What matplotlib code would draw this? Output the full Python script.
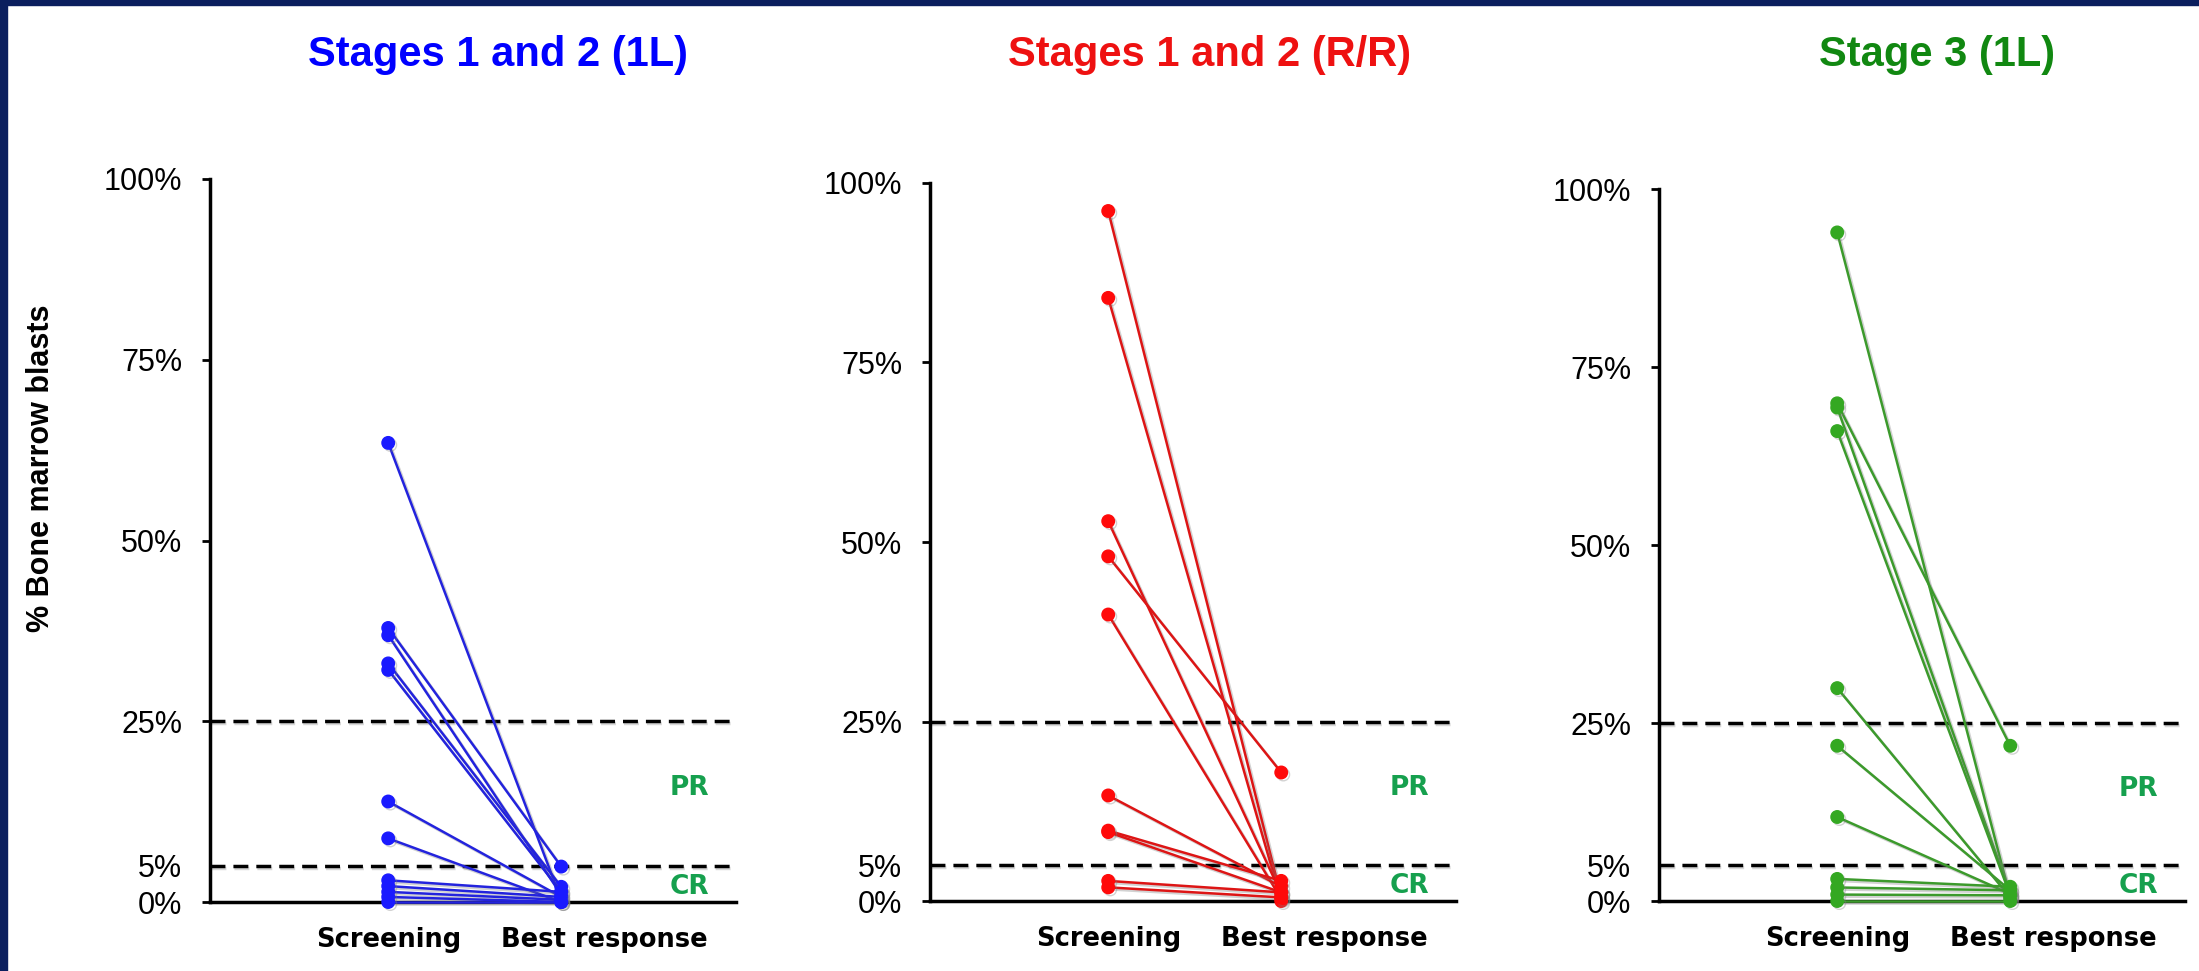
import matplotlib
matplotlib.use('Agg')
import matplotlib.pyplot as plt
import matplotlib.patheffects as pe
from matplotlib.patches import Rectangle

plt.rcParams['font.family'] = ['Liberation Sans', 'DejaVu Sans']

# Data (% bone marrow blasts), one pair of values per patient
categories = ['Screening', 'Best response']

blue_screen = [63.5, 37.9, 36.9, 33.0, 32.1, 13.9, 8.8, 3.0, 2.2, 1.4, 0.7, 0.0]
blue_best = [0.3, 4.9, 1.0, 2.1, 1.4, 0.7, 0.0, 1.4, 0.7, 0.3, 0.0, 0.0]

red_screen = [96.1, 84.0, 52.9, 48.0, 39.9, 14.7, 9.8, 9.6, 2.8, 1.9]
red_best = [0.5, 0.0, 1.0, 17.9, 0.3, 2.0, 2.8, 1.2, 1.2, 0.5]

green_screen = [93.9, 69.9, 69.3, 66.0, 29.9, 21.8, 11.8, 3.1, 1.9, 0.9, 0.0]
green_best = [0.5, 21.8, 1.0, 0.8, 0.5, 1.5, 1.0, 2.0, 1.5, 0.8, 0.0]

titles = ['Stages 1 and 2 (1L)', 'Stages 1 and 2 (R/R)', 'Stage 3 (1L)']
yticks = [0, 25, 50, 75, 100]
ytick_labels = ['0%', '25%', '50%', '75%', '100%']
thresholds = [25, 5]

W, H = 2199, 971
fig = plt.figure(figsize=(W / 100, H / 100), dpi=100)
fig.patch.set_facecolor('white')

# navy frame around the slide
navy = '#0b1f5e'
for x, y, w, h in [(0, 0, 7, H), (0, H - 5, W, 5)]:
    fig.patches.append(Rectangle((x / W, y / H), w / W, h / H,
                                 transform=fig.transFigure, color=navy, zorder=0))

# axes boxes in pixels: left, right, top, bottom
boxes = [(210, 736, 179, 902), (930, 1456, 183, 901), (1659, 2185, 189, 901)]
title_x = [498, 1210, 1937]
series = [(blue_screen, blue_best), (red_screen, red_best), (green_screen, green_best)]
line_colors = ['#2323dd', '#dd1515', '#3c9a2c']
dot_colors = ['#1a1aff', '#ff0a0a', '#34a822']
title_colors = ['#0000ff', '#ee1111', '#118811']
label_green = '#16a04e'
bold_wide = ['DejaVu Sans']

shadow = [pe.SimpleLineShadow(offset=(1.5, -1.5), shadow_color='gray', alpha=0.35), pe.Normal()]

for i in range(3):
    l, r, t, b = boxes[i]
    ax = fig.add_axes([l / W, (H - b) / H, (r - l) / W, (b - t) / H])
    screen, best = series[i]

    for s, bv in zip(screen, best):
        ax.plot([0, 1], [s, bv], color=line_colors[i], lw=1.8, zorder=3,
                marker='o', ms=9, mfc=dot_colors[i], mec=dot_colors[i],
                path_effects=shadow, clip_on=False)

    for th in thresholds:
        ax.axhline(th, color='black', lw=2.5, dashes=(4.3, 2.3), zorder=2,
                   path_effects=[pe.SimpleLineShadow(offset=(1, -1.5), shadow_color='gray', alpha=0.3),
                                 pe.Normal()])

    ax.set_xlim(-1.03, 2.01)
    ax.set_ylim(0, 100)

    ax.set_yticks(yticks)
    ax.set_yticklabels(ytick_labels)
    ax.set_yticks([5], ['5%'], minor=True)
    ax.tick_params(axis='y', which='major', length=6, width=2, pad=14, labelsize=22)
    ax.tick_params(axis='y', which='minor', length=0, pad=20, labelsize=22)

    ax.set_xticks([0, 1.25])
    ax.set_xticklabels(categories, fontweight='bold', family=bold_wide)
    ax.tick_params(axis='x', length=0, pad=18, labelsize=18.5)

    for side in ['top', 'right']:
        ax.spines[side].set_visible(False)
    for side in ['left', 'bottom']:
        ax.spines[side].set_linewidth(2.5)

    ax.text(1.74, 15.8, 'PR', color=label_green, fontsize=19, fontweight='bold',
            family=bold_wide, ha='center', va='center')
    ax.text(1.74, 2.1, 'CR', color=label_green, fontsize=19, fontweight='bold',
            family=bold_wide, ha='center', va='center')

    # panel title
    fig.text(title_x[i] / W, 1 - 55 / H, titles[i], color=title_colors[i],
             fontsize=30, fontweight='bold', ha='center', va='center')

fig.text(41 / W, 1 - 468 / H, '% Bone marrow blasts', rotation=90, fontsize=22,
         fontweight='bold', ha='center', va='center')

fig.savefig('out.png', dpi=100)
